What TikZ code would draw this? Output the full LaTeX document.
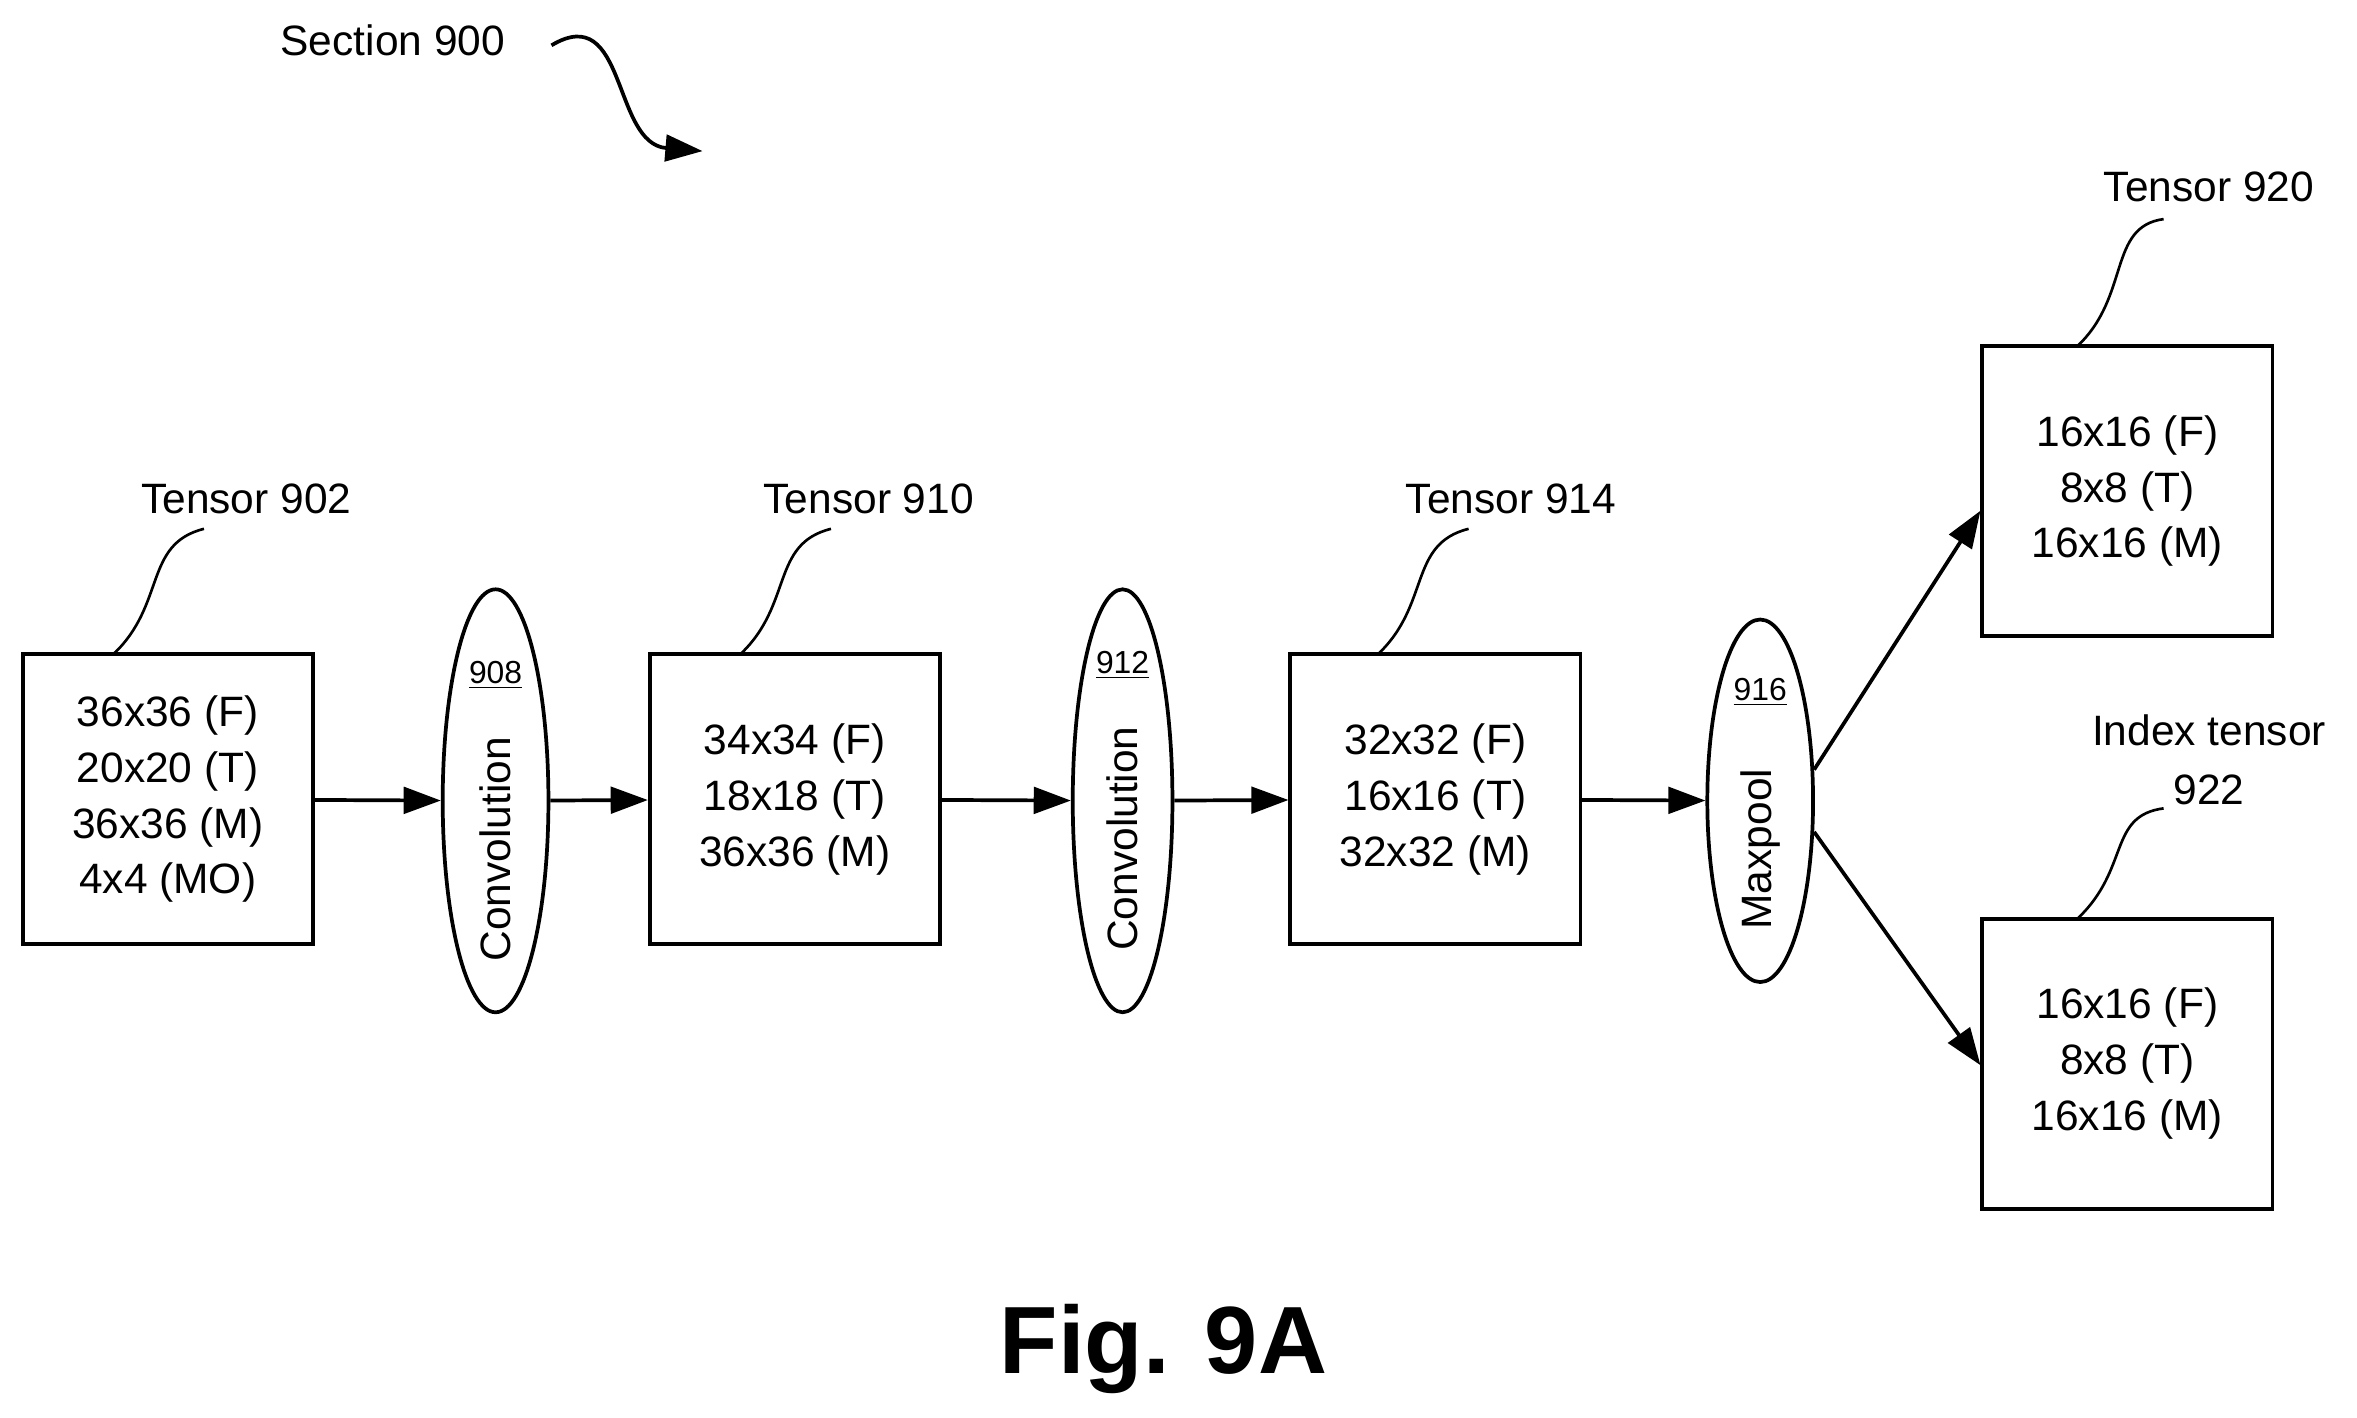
\documentclass[tikz,border=0pt]{standalone}
\usepackage{fontspec}
\setmainfont{Liberation Sans}
\usetikzlibrary{shapes.geometric,arrows.meta}
\begin{document}
\begin{tikzpicture}[x=0.02cm,y=-0.02cm,
 box/.style={draw,line width=1.4pt,minimum width=3.84cm,minimum height=3.84cm,inner sep=0pt},
 txt/.style={font=\fontsize{16}{20}\selectfont,align=center,inner sep=0pt},
 ell/.style={draw,ellipse,line width=1.4pt,inner sep=0pt},
 num/.style={font=\fontsize{12}{14}\selectfont,inner sep=0pt},
 arr/.style={line width=1.4pt,-{Triangle[length=14pt,width=10pt]}},
 lead/.style={line width=1pt}]
\useasboundingbox (0,0) rectangle (1560,938);
\node[txt] (sec) at (260,27) {Section 900};
\coordinate (secE) at (465,100);
\draw[line width=1.4pt,-{Triangle[length=14pt,width=10pt]}] (365,30) .. controls (415,0) and (405,95) .. (secE);

% boxes
\node[box] (b902) at (111,529) {};
\node[txt] at (b902) {36x36 (F)\\[1pt]20x20 (T)\\[1pt]36x36 (M)\\[1pt]4x4 (MO)};
\node[box] (b910) at (526,529) {};
\node[txt] at (b910) {34x34 (F)\\[1pt]18x18 (T)\\[1pt]36x36 (M)};
\node[box] (b914) at (950,529) {};
\node[txt] at (b914) {32x32 (F)\\[1pt]16x16 (T)\\[1pt]32x32 (M)};
\node[box] (b920) at (1408,325) {};
\node[txt] at (b920) {16x16 (F)\\[1pt]8x8 (T)\\[1pt]16x16 (M)};
\node[box] (b922) at (1408,704) {};
\node[txt] at (b922) {16x16 (F)\\[1pt]8x8 (T)\\[1pt]16x16 (M)};

% ellipses
\node[ell,minimum width=1.4cm,minimum height=5.6cm] (e908) at (328,530) {};
\node[txt,rotate=90] at (328,562) {Convolution};
\node[num] at (328,447) {\underline{908}};
\node[ell,minimum width=1.32cm,minimum height=5.6cm] (e912) at (743,530) {};
\node[txt,rotate=90] at (743,555) {Convolution};
\node[num] at (743,440) {\underline{912}};
\node[ell,minimum width=1.4cm,minimum height=4.8cm] (e916) at (1165,530) {};
\node[txt,rotate=90] at (1165,562) {Maxpool};
\node[num] at (1165,458) {\underline{916}};

% arrows
\draw[arr] (b902) -- (e908);
\draw[arr] (e908) -- (b910);
\draw[arr] (b910) -- (e912);
\draw[arr] (e912) -- (b914);
\draw[arr] (b914) -- (e916);
\draw[arr] (e916.30) -- (b920.west |- 0,338);
\draw[arr] (e916.-30) -- (b922.west |- 0,705);

% labels
\node[txt] (l902) at (163,330) {Tensor 902};
\node[txt] (l910) at (575,330) {Tensor 910};
\node[txt] (l914) at (1000,330) {Tensor 914};
\node[txt] (l920) at (1462,124) {Tensor 920};
\node[txt] (l922) at (1462,503) {Index tensor\\[2pt]922};
\draw[lead] (75,433) .. controls (110,400) and (95,360) .. (135,350);
\draw[lead] (490,433) .. controls (525,400) and (510,360) .. (550,350);
\draw[lead] (912,433) .. controls (947,400) and (932,360) .. (972,350);
\draw[lead] (1375,229) .. controls (1410,196) and (1395,150) .. (1432,145);
\draw[lead] (1375,608) .. controls (1410,575) and (1395,540) .. (1432,535);

\node[font=\fontsize{36}{40}\selectfont\bfseries,inner sep=0pt] (fig) at (770,893) {Fig. 9A};
\end{tikzpicture}
\end{document}
